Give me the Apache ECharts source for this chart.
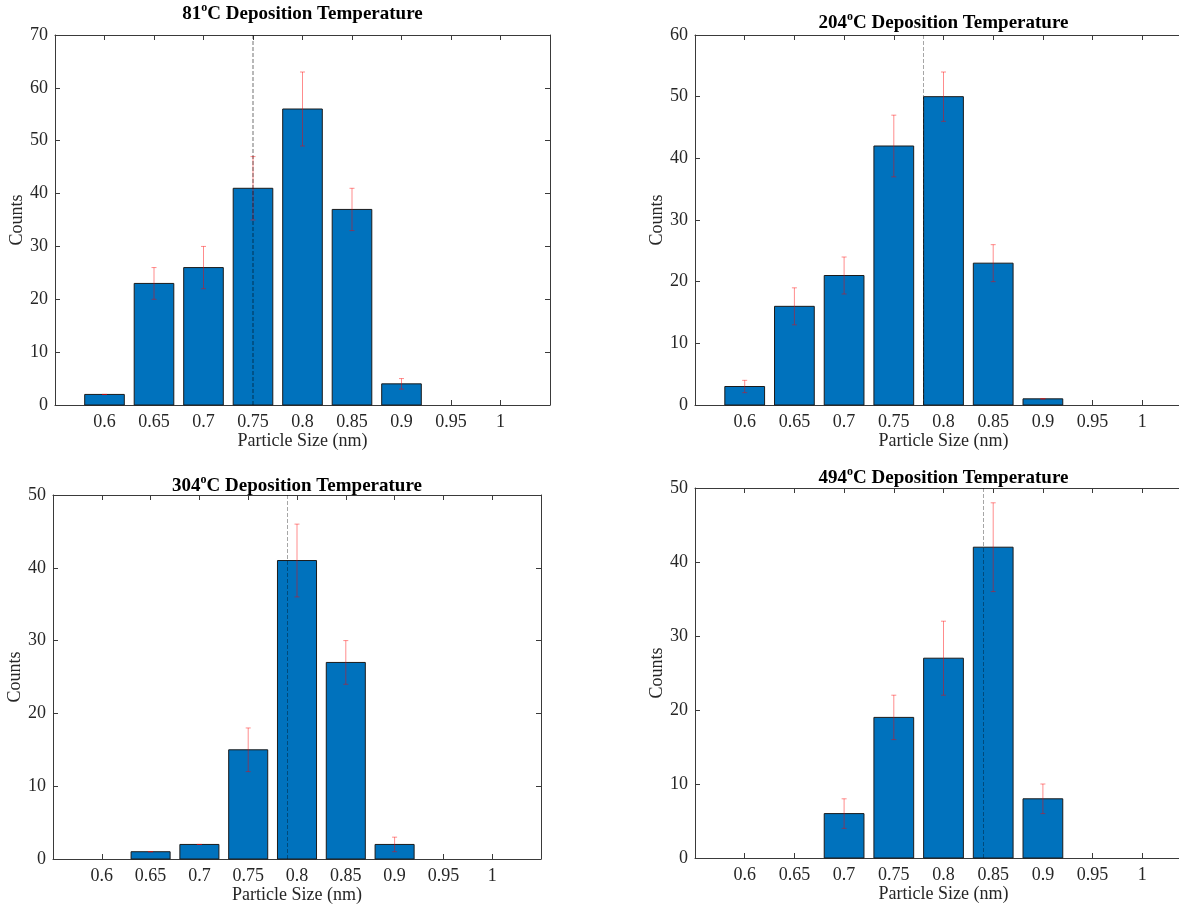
<!DOCTYPE html>
<html>
<head>
<meta charset="utf-8">
<script src="https://cdn.jsdelivr.net/npm/echarts@6/dist/echarts.min.js"></script>
<style>
html,body{margin:0;padding:0;background:#fff;overflow:hidden;}
#chart{width:1200px;height:905px;}
</style>
</head>
<body>
<div id="chart"></div>
<script>
// ---- data ----
const sizes = [0.6, 0.65, 0.7, 0.75, 0.8, 0.85, 0.9, 0.95, 1.0];
const temps = ['81', '204', '304', '494'];
const counts81  = [2, 23, 26, 41, 56, 37, 4, 0, 0];
const err81     = [0, 3, 4, 6, 7, 4, 1, 0, 0];
const counts204 = [3, 16, 21, 42, 50, 23, 1, 0, 0];
const err204    = [1, 3, 3, 5, 4, 3, 0, 0, 0];
const counts304 = [0, 1, 2, 15, 41, 27, 2, 0, 0];
const err304    = [0, 0, 0, 3, 5, 3, 1, 0, 0];
const counts494 = [0, 0, 6, 19, 27, 42, 8, 0, 0];
const err494    = [0, 0, 2, 3, 5, 6, 2, 0, 0];
const meanSize  = [0.753, 0.775, 0.792, 0.844];
const yMax      = [70, 60, 50, 50];
const xMin = 0.55, xMax = 1.05, xStep = 0.05;

const allCounts = [counts81, counts204, counts304, counts494];
const allErr = [err81, err204, err304, err494];

// ---- layout / style ----
const grids = [
  {left: 55,  top: 35,  width: 495, height: 370},
  {left: 695, top: 35,  width: 497, height: 370},
  {left: 53,  top: 495, width: 488, height: 364},
  {left: 695, top: 488, width: 497, height: 370}
];
const rightBox = [true, false, true, false]; // right edge of right-hand panels lies outside the picture
const titleTops = [2, 11, 474, 466];
const dashWidths = [1.6, 1, 1, 1];
const FONT = '"Liberation Serif", "Times New Roman", serif';
const TXT = '#262626';
const LINE = '#3a3a3a';
const BAR_HALF = 0.02; // bar width = 0.8 of bin spacing

const chart = echarts.init(document.getElementById('chart'), null, {renderer: 'canvas'});

const xAxes = [], yAxes = [], series = [], titles = [];

grids.forEach((g, i) => {
  xAxes.push({
    gridIndex: i, type: 'value', min: xMin, max: xMax, interval: xStep,
    axisLine: {show: true, onZero: false, lineStyle: {color: LINE, width: 1}},
    axisTick: {show: true, inside: true, length: 5, lineStyle: {color: LINE}},
    splitLine: {show: false},
    axisLabel: {
      margin: 8, fontSize: 18, color: TXT, fontFamily: FONT,
      formatter: v => {
        const r = Math.round(v * 100) / 100;
        if (r < sizes[0] - 1e-6 || r > sizes[sizes.length - 1] + 1e-6) return '';
        return String(r);
      }
    },
    name: 'Particle Size (nm)', nameLocation: 'middle', nameGap: 27,
    nameTextStyle: {fontSize: 18, color: TXT, fontFamily: FONT}
  });
  xAxes.push({
    gridIndex: i, type: 'value', position: 'top', min: xMin, max: xMax, interval: xStep,
    axisLine: {show: true, onZero: false, lineStyle: {color: LINE, width: 1}},
    axisTick: {show: true, inside: true, length: 5, lineStyle: {color: LINE}},
    splitLine: {show: false}, axisLabel: {show: false}
  });
  yAxes.push({
    gridIndex: i, type: 'value', min: 0, max: yMax[i], interval: 10,
    axisLine: {show: true, onZero: false, lineStyle: {color: LINE, width: 1}},
    axisTick: {show: true, inside: true, length: 5, lineStyle: {color: LINE}},
    splitLine: {show: false},
    axisLabel: {margin: 7, fontSize: 18, color: TXT, fontFamily: FONT},
    name: 'Counts', nameLocation: 'middle', nameGap: 29, nameRotate: 90,
    nameTextStyle: {fontSize: 18, color: TXT, fontFamily: FONT}
  });
  yAxes.push({
    gridIndex: i, type: 'value', position: 'right', min: 0, max: yMax[i], interval: 10,
    show: rightBox[i],
    axisLine: {show: true, onZero: false, lineStyle: {color: LINE, width: 1}},
    axisTick: {show: true, inside: true, length: 5, lineStyle: {color: LINE}},
    splitLine: {show: false}, axisLabel: {show: false}
  });

  const data = sizes.map((s, k) => [s, allCounts[i][k], allErr[i][k]]);

  series.push({
    type: 'custom', xAxisIndex: 2 * i, yAxisIndex: 2 * i, data: data, silent: true,
    renderItem: (params, api) => {
      const x = api.value(0), y = api.value(1);
      if (y <= 0) return null;
      const a = api.coord([x - BAR_HALF, y]);
      const b = api.coord([x + BAR_HALF, 0]);
      return {
        type: 'rect',
        shape: {x: a[0], y: a[1], width: b[0] - a[0], height: b[1] - a[1]},
        style: {fill: '#0072BD', stroke: '#1b1b1b', lineWidth: 1}
      };
    },
    markLine: {
      silent: true, symbol: ['none', 'none'], label: {show: false},
      lineStyle: {color: 'rgba(0,0,0,0.35)', type: [4, 2], width: dashWidths[i]},
      data: [{xAxis: meanSize[i]}]
    },
    z: 2
  });

  series.push({
    type: 'custom', xAxisIndex: 2 * i, yAxisIndex: 2 * i, data: data, silent: true,
    renderItem: (params, api) => {
      const x = api.value(0), y = api.value(1), e = api.value(2);
      if (y <= 0) return null;
      const top = api.coord([x, y + e]);
      const bot = api.coord([x, y - e]);
      const c = 'rgba(255,0,0,0.45)';
      const cap = 2.5;
      return {
        type: 'group',
        children: [
          {type: 'line', shape: {x1: top[0], y1: top[1], x2: bot[0], y2: bot[1]}, style: {stroke: c, lineWidth: 1}},
          {type: 'line', shape: {x1: top[0] - cap, y1: top[1], x2: top[0] + cap, y2: top[1]}, style: {stroke: c, lineWidth: 1}},
          {type: 'line', shape: {x1: bot[0] - cap, y1: bot[1], x2: bot[0] + cap, y2: bot[1]}, style: {stroke: c, lineWidth: 1}}
        ]
      };
    },
    z: 3
  });

  titles.push({
    text: '{n|' + temps[i] + '}{s|o}{n|C Deposition Temperature}',
    left: g.left + g.width / 2, top: titleTops[i], textAlign: 'center', padding: 0,
    textStyle: {
      rich: {
        n: {fontSize: 19, fontWeight: 'bold', color: '#000', fontFamily: FONT, lineHeight: 22, verticalAlign: 'bottom'},
        s: {fontSize: 12, fontWeight: 'bold', color: '#000', fontFamily: FONT, lineHeight: 22, verticalAlign: 'top'}
      }
    }
  });
});

chart.setOption({
  animation: false,
  backgroundColor: '#fff',
  title: titles,
  grid: grids.map(g => Object.assign({containLabel: false}, g)),
  xAxis: xAxes,
  yAxis: yAxes,
  series: series
});
</script>
</body>
</html>
